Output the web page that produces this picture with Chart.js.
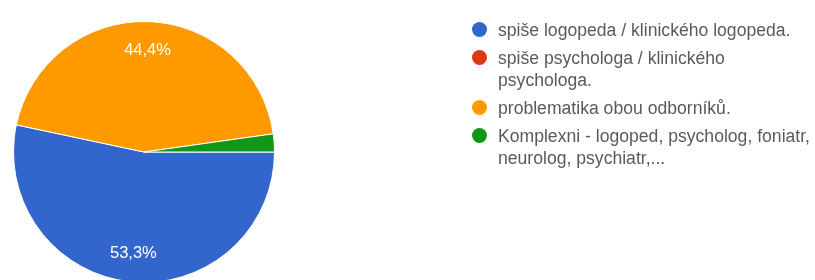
<!DOCTYPE html>
<html>
<head>
<meta charset="utf-8">
<script src="https://cdn.jsdelivr.net/npm/chart.js@4/dist/chart.umd.min.js"></script>
<style>
  html, body { margin: 0; padding: 0; background: #fff; overflow: hidden; }
  #wrap { position: relative; width: 815px; height: 290px; }
  #legend { position: absolute; left: 472px; top: 19px; font-family: "Liberation Sans", Arial, sans-serif; font-size: 17.6px; color: #5a5a5a; }
  .item { display: flex; align-items: flex-start; margin-bottom: 6px; }
  .dot { width: 15px; height: 15px; border-radius: 50%; margin-top: 3px; margin-right: 11px; flex: none; }
  .txt { line-height: 22px; white-space: nowrap; }
</style>
</head>
<body>
<div id="wrap">
  <canvas id="c" width="815" height="290"></canvas>
  <div id="legend"></div>
</div>
<script>
const categories = [
  ['spiše logopeda / klinického logopeda.'],
  ['spiše psychologa / klinického', 'psychologa.'],
  ['problematika obou odborníků.'],
  ['Komplexni - logoped, psycholog, foniatr,', 'neurolog, psychiatr,...']
];
const responses = [24, 0, 20, 1];
const sliceColors = ['#3366cc', '#dc3912', '#ff9900', '#109618'];

const sliceLabels = {
  id: 'sliceLabels',
  afterDatasetsDraw(chart) {
    const ctx = chart.ctx;
    const data = chart.data.datasets[0].data;
    const total = data.reduce((a, b) => a + b, 0);
    const meta = chart.getDatasetMeta(0);
    ctx.save();
    ctx.fillStyle = '#ffffff';
    ctx.font = '16.5px "Liberation Sans", Arial, sans-serif';
    ctx.textAlign = 'center';
    ctx.textBaseline = 'middle';
    meta.data.forEach((arc, i) => {
      const pct = data[i] / total * 100;
      if (pct < 5) return;
      const p = arc.getProps(['x', 'y', 'startAngle', 'endAngle', 'outerRadius'], true);
      const mid = (p.startAngle + p.endAngle) / 2;
      const r = p.outerRadius * 0.78;
      ctx.fillText(pct.toFixed(1).replace('.', ',') + '%', p.x + Math.cos(mid) * r, p.y + Math.sin(mid) * r);
    });
    ctx.restore();
  }
};

const htmlLegend = {
  id: 'htmlLegend',
  afterUpdate(chart) {
    const box = document.getElementById('legend');
    box.innerHTML = '';
    chart.data.labels.forEach((lab, i) => {
      const item = document.createElement('div');
      item.className = 'item';
      const dot = document.createElement('span');
      dot.className = 'dot';
      dot.style.background = chart.data.datasets[0].backgroundColor[i];
      const txt = document.createElement('span');
      txt.className = 'txt';
      txt.innerHTML = lab.join('<br>');
      item.appendChild(dot);
      item.appendChild(txt);
      box.appendChild(item);
    });
  }
};

new Chart(document.getElementById('c'), {
  type: 'pie',
  data: {
    labels: categories,
    datasets: [{
      data: responses,
      backgroundColor: sliceColors,
      borderColor: '#ffffff',
      borderWidth: 1
    }]
  },
  options: {
    responsive: false,
    animation: false,
    rotation: 90,
    layout: { padding: { left: 13, top: 21, right: 540, bottom: 7 } },
    plugins: {
      legend: { display: false },
      tooltip: { enabled: false }
    }
  },
  plugins: [sliceLabels, htmlLegend]
});
</script>
</body>
</html>
